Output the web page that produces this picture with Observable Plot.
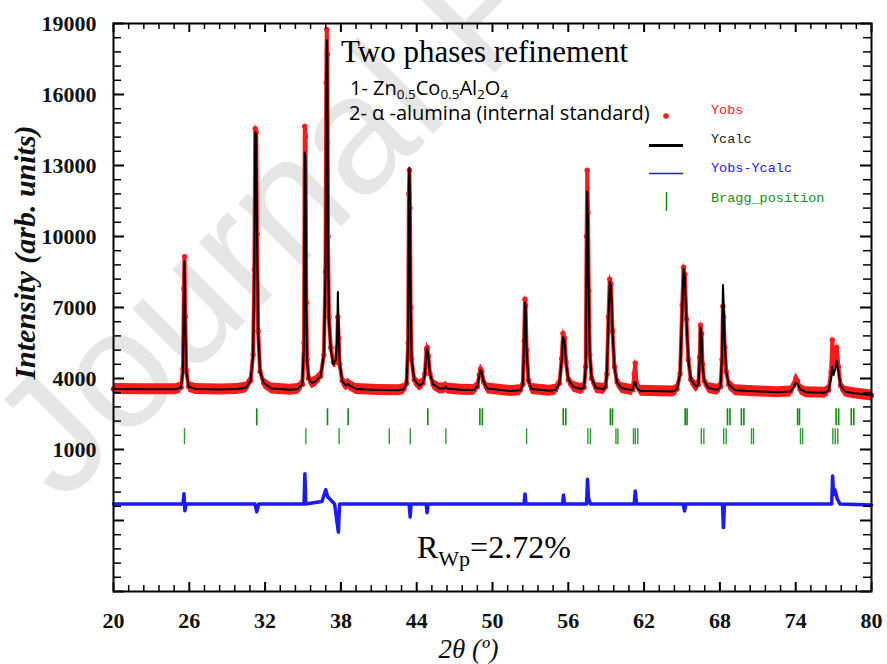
<!DOCTYPE html>
<html>
<head>
<meta charset="utf-8">
<script src="https://cdn.jsdelivr.net/npm/d3@7"></script>
<script src="https://cdn.jsdelivr.net/npm/@observablehq/plot@0.6"></script>
<style>
  body { margin: 0; background: #fff; }
  #chart svg { display: block; }
</style>
</head>
<body>
<div id="chart"></div>
<script>
// Rietveld refinement profile: observed, calculated, difference and Bragg positions.

// Profile vertices: 2θ (degrees), calculated and observed intensity (arb. units)
const twoTheta = [
  20.0, 22.5, 24.9,
  25.35, 25.5, 25.57, 25.62, 25.68, 25.76, 25.95, 26.5, 28.5,
  29.8, 30.5, 30.85, 31.05, 31.15, 31.22, 31.3, 31.36, 31.45, 31.6, 31.9, 32.5, 34.0,
  34.6, 34.95, 35.08, 35.14, 35.2, 35.26, 35.32, 35.45, 35.7, 36.0,
  36.4, 36.65, 36.78, 36.84, 36.88, 36.93, 36.98, 37.05, 37.2, 37.4, 37.6,
  37.7, 37.76, 37.82, 37.9, 38.1, 38.4, 38.57, 38.7, 39.2, 41.0, 42.6,
  43.0, 43.2, 43.32, 43.38, 43.42, 43.47, 43.52, 43.6, 43.8, 44.2,
  44.5, 44.65, 44.78, 44.84, 44.92, 45.05, 45.3, 45.8, 46.2, 46.3, 46.4, 47.5,
  48.5, 48.8, 48.95, 49.05, 49.15, 49.3, 49.6, 51.5,
  52.2, 52.4, 52.5, 52.57, 52.62, 52.7, 52.85, 53.1, 54.5,
  55.0, 55.3, 55.48, 55.58, 55.7, 55.82, 56.0, 56.4, 57.0,
  57.25, 57.38, 57.45, 57.5, 57.56, 57.62, 57.7, 57.85, 58.2, 58.8,
  58.95, 59.05, 59.18, 59.28, 59.38, 59.5, 59.65, 59.85, 60.2, 60.9,
  61.1, 61.22, 61.3, 61.4, 61.7, 64.3,
  64.6, 64.85, 65.02, 65.12, 65.22, 65.35, 65.5, 65.7, 66.1,
  66.3, 66.4, 66.46, 66.55, 66.62, 66.75, 67.1, 67.8,
  68.05, 68.17, 68.24, 68.3, 68.38, 68.5, 68.7, 69.2, 72.5,
  73.6, 73.85, 74.0, 74.15, 74.35, 74.8, 76.3,
  76.6, 76.8, 76.9, 77.0, 77.12, 77.25, 77.38, 77.55, 77.9, 78.6, 80.0
];
const yCalc = [
  3560, 3550, 3545,
  3620, 4300, 7600, 8950, 6500, 4300, 3650, 3560, 3540,
  3560, 3620, 3900, 5000, 8500, 14400, 14300, 10000, 6000, 4300, 3800, 3580, 3520,
  3560, 3750, 5500, 13550, 13400, 7000, 4800, 4000, 3800, 3880,
  4100, 5000, 8500, 16000, 18300, 17500, 10000, 6500, 5200, 4600, 4800,
  5600, 7650, 6200, 4700, 3900, 3700, 3780, 3700, 3560, 3510, 3500,
  3560, 3800, 5500, 12000, 12900, 11500, 7000, 4800, 3950, 3700,
  3800, 4200, 5200, 5260, 4900, 4200, 3750, 3580, 3590, 3660, 3580, 3520,
  3510, 3650, 4100, 4350, 4250, 3850, 3580, 3470,
  3500, 3750, 5500, 7200, 7000, 5200, 3900, 3560, 3480,
  3520, 3800, 4800, 5750, 5600, 4700, 3950, 3650, 3560,
  3620, 4500, 9500, 11900, 10500, 7500, 5000, 4000, 3600, 3560,
  3650, 4200, 6500, 8100, 7900, 6000, 4500, 3850, 3600, 3520,
  3520, 3800, 3850, 3600, 3480, 3450,
  3550, 4200, 7000, 8630, 8300, 6500, 4800, 3950, 3650,
  3750, 4800, 6150, 5800, 4600, 3900, 3600, 3520,
  3650, 5000, 7950, 7200, 5500, 4300, 3750, 3500, 3420,
  3450, 3650, 3800, 3780, 3550, 3420, 3400,
  3500, 4000, 4500, 4150, 4400, 4750, 4300, 3700, 3450, 3380, 3300
];
const yObs = [
  3560, 3550, 3545,
  3620, 4400, 7800, 9150, 6600, 4350, 3650, 3560, 3540,
  3560, 3620, 3900, 5000, 8600, 14550, 14400, 10100, 6000, 4300, 3800, 3580, 3520,
  3560, 3750, 5500, 14650, 14230, 7200, 4800, 4000, 3800, 3880,
  4100, 5000, 8500, 16500, 18750, 17700, 10000, 6600, 5300, 4700, 4700,
  5300, 6600, 5700, 4600, 3900, 3700, 3780, 3700, 3560, 3510, 3500,
  3560, 3800, 5500, 11800, 12800, 11200, 7000, 4800, 3950, 3700,
  3800, 4200, 5250, 5314, 4950, 4200, 3750, 3580, 3590, 3660, 3580, 3520,
  3510, 3650, 4150, 4400, 4300, 3850, 3580, 3470,
  3500, 3750, 5600, 7350, 7100, 5200, 3900, 3560, 3480,
  3520, 3800, 4850, 5900, 5700, 4700, 3950, 3650, 3560,
  3620, 4500, 10000, 12800, 11000, 7700, 5000, 4000, 3600, 3560,
  3650, 4200, 6600, 8200, 8000, 6000, 4500, 3850, 3600, 3520,
  3520, 4200, 4650, 3800, 3480, 3450,
  3550, 4200, 7100, 8700, 8400, 6500, 4800, 3950, 3650,
  3750, 4900, 6250, 5900, 4600, 3900, 3600, 3520,
  3650, 4800, 7050, 6600, 5300, 4300, 3750, 3500, 3420,
  3450, 3700, 4000, 3900, 3550, 3420, 3400,
  3500, 4300, 5626, 4600, 5000, 5314, 4500, 3700, 3450, 3380, 3280
];

// Difference curve (Yobs - Ycalc, shifted below the pattern)
const diffTheta = [
  20.0, 25.5, 25.58, 25.65, 25.75, 31.2, 31.34, 31.5,
  35.08, 35.15, 35.22, 36.5, 36.8, 36.95, 37.5, 37.8, 37.9,
  43.4, 43.48, 43.56, 44.75, 44.82, 44.9,
  52.5, 52.57, 52.65, 55.55, 55.62, 55.7,
  57.45, 57.52, 57.6, 57.75, 61.22, 61.3, 61.4,
  65.1, 65.2, 65.3, 68.2, 68.28, 68.36,
  76.85, 76.92, 77.0, 77.1, 77.3, 77.5, 80.0
];
const diffValue = [
  -1300, -1300, -870, -1590, -1300, -1300, -1630, -1300,
  -1300, -20, -1300, -1200, -700, -1000, -1300, -2490, -1300,
  -1300, -1850, -1300, -1300, -1670, -1300,
  -1300, -880, -1300, -1300, -920, -1300,
  -1300, -260, -1050, -1300, -1300, -750, -1300,
  -1300, -1600, -1300, -1300, -2300, -1300,
  -1300, -120, -900, -700, -1100, -1300, -1350
];

// Bragg positions (2θ): phase 1 Zn0.5Co0.5Al2O4, phase 2 α-alumina
const braggPhase1 = [
  31.34, 36.94, 38.57, 44.88, 49.0, 49.2, 55.6, 55.8, 59.33, 59.5,
  65.25, 65.4, 68.6, 68.8, 69.7, 69.9, 74.15, 74.3, 77.2, 77.4, 78.4, 78.6
];
const braggPhase2 = [
  25.62, 35.23, 37.86, 41.83, 43.49, 46.31, 52.7, 57.55, 57.75, 59.77, 59.93,
  61.16, 61.3, 61.5, 66.53, 66.73, 68.3, 68.5, 70.5, 70.66, 74.38, 74.55,
  76.94, 77.13, 77.33
];

// Axis tick labels
const xTickLabels = [20, 26, 32, 38, 44, 50, 56, 62, 68, 74, 80];
const yTickLabels = [1000, 4000, 7000, 10000, 13000, 16000, 19000];
const yMajorTicks = [-5000, -2000, 1000, 4000, 7000, 10000, 13000, 16000, 19000];

// Texts
const titleText = "Two phases refinement";
const yTitle = "Intensity (arb. units)";
const xTitle = "2θ (º)";
const legendLabels = ["Yobs", "Ycalc", "Yobs-Ycalc", "Bragg_position"];
const watermark = "Journal Pre-proof";

// Layout
const W = 887, H = 664;
const M = {top: 23, right: 16, bottom: 73, left: 113};
const xDomain = [20, 80];
const yDomain = [-5000, 19000];
const plotW = W - M.left - M.right;
const plotH = H - M.top - M.bottom;
const xPerPx = (xDomain[1] - xDomain[0]) / plotW;
const yPerPx = (yDomain[1] - yDomain[0]) / plotH;

const SERIF = "'Liberation Serif', 'Times New Roman', serif";
const SANS = "'Open Sans', Lato, sans-serif";
const MONO = "'Liberation Mono', 'DejaVu Sans Mono', monospace";
const RED = "#ff1a1a", BLUE = "#1a1aff", GREEN = "#14901a";
const obsScatter = 5.5 * yPerPx; // half-thickness of the observed-point band

const profile = twoTheta.map((t, i) => ({t, calc: yCalc[i], obs: yObs[i]}));
const diff = diffTheta.map((t, i) => ({t, v: diffValue[i]}));

// Tick positions: majors every 6° / 3000, minors every 1.2° / 600
const xMinorTicks = d3.range(0, 51).map(i => 20 + i * 1.2).filter((v, i) => i % 5 !== 0);
const yMinorTicks = d3.range(0, 41).map(i => -5000 + i * 600).filter((v, i) => i % 5 !== 0);

function xTicks(values, len, sw) {
  const dy = len * yPerPx;
  return [
    Plot.ruleX(values, {x: d => d, y1: yDomain[0], y2: yDomain[0] + dy, stroke: "#000", strokeWidth: sw}),
    Plot.ruleX(values, {x: d => d, y1: yDomain[1], y2: yDomain[1] - dy, stroke: "#000", strokeWidth: sw})
  ];
}
function yTicks(values, len, sw) {
  const dx = len * xPerPx;
  return [
    Plot.ruleY(values, {y: d => d, x1: xDomain[0], x2: xDomain[0] + dx, stroke: "#000", strokeWidth: sw}),
    Plot.ruleY(values, {y: d => d, x1: xDomain[1], x2: xDomain[1] - dx, stroke: "#000", strokeWidth: sw})
  ];
}

const chart = Plot.plot({
  width: W,
  height: H,
  marginTop: M.top,
  marginRight: M.right,
  marginBottom: M.bottom,
  marginLeft: M.left,
  style: {background: "#fff", overflow: "visible"},
  x: {domain: xDomain, axis: null},
  y: {domain: yDomain, axis: null},
  marks: [
    // observed points
    Plot.areaY(profile, {x: "t", y1: d => d.obs - obsScatter, y2: d => d.obs + obsScatter, fill: RED}),
    Plot.line(profile, {x: "t", y: "obs", stroke: RED, strokeWidth: 4, strokeLinejoin: "round", strokeLinecap: "round"}),
    Plot.dot(profile, {x: "t", y: "obs", r: 2.7, fill: RED}),
    // calculated profile
    Plot.line(profile, {x: "t", y: "calc", stroke: "#000", strokeWidth: 2}),
    // difference
    Plot.line(diff, {x: "t", y: "v", stroke: BLUE, strokeWidth: 3.5}),
    // Bragg positions
    Plot.ruleX(braggPhase1, {x: d => d, y1: 2000, y2: 2720, stroke: "#0d8a12", strokeWidth: 1.6}),
    Plot.ruleX(braggPhase2, {x: d => d, y1: 1200, y2: 1880, stroke: "#2d9d33", strokeWidth: 1.4}),
    // inward ticks on all sides
    ...xTicks(xTickLabels, 9, 2),
    ...xTicks(xMinorTicks, 6, 1.5),
    ...yTicks(yMajorTicks, 11, 2),
    ...yTicks(yMinorTicks, 8, 1.5),
    Plot.frame({stroke: "#000", strokeWidth: 2}),
    // tick labels
    Plot.text(yTickLabels, {y: d => d, text: d => String(d), frameAnchor: "left", dx: -17, textAnchor: "end",
      lineAnchor: "middle", fontFamily: SERIF, fontWeight: "bold", fontSize: 22, fill: "#111"}),
    Plot.text(xTickLabels, {x: d => d, text: d => String(d), frameAnchor: "bottom", dy: 29, textAnchor: "middle",
      lineAnchor: "middle", fontFamily: SERIF, fontWeight: "bold", fontSize: 22, fill: "#111"}),
    // axis titles
    Plot.text([yTitle], {text: d => d, frameAnchor: "left", dx: -88, dy: -55, rotate: -90,
      textAnchor: "middle", lineAnchor: "middle",
      fontFamily: SERIF, fontWeight: "bold", fontStyle: "italic", fontSize: 30, fill: "#111"}),
    Plot.text([xTitle], {text: d => d, frameAnchor: "bottom", dx: -24, dy: 58, textAnchor: "middle",
      lineAnchor: "middle", fontFamily: SERIF, fontStyle: "italic", fontSize: 27, fill: "#111"})
  ]
});

const svg = d3.select(chart);

// Faint diagonal watermark behind everything
svg.insert("text", ":first-child")
  .attr("transform", "translate(62,505) rotate(-45)")
  .attr("text-anchor", "start")
  .attr("font-family", "'Liberation Sans', Arial, sans-serif")
  .attr("font-size", 168)
  .attr("fill", "#e6e6e6")
  .text(watermark);

function addRich(parent, x, y, parts, {family, size, fill = "#000", weight = "normal"}) {
  const t = parent.append("text").attr("x", x).attr("y", y)
    .attr("text-anchor", "start")
    .attr("font-family", family).attr("font-size", size)
    .attr("fill", fill).attr("font-weight", weight);
  let shift = 0;
  for (const p of parts) {
    const target = p.sub ? p.shift : 0;
    t.append("tspan").attr("dy", target - shift).attr("font-size", p.sub ? p.size : size).text(p.text);
    shift = target;
  }
  return t;
}

const notes = svg.append("g").attr("text-anchor", "start");
notes.append("text").attr("x", 341).attr("y", 62)
  .attr("font-family", SERIF).attr("font-size", 31).attr("fill", "#000").text(titleText);

addRich(notes, 350, 95, [
  {text: "1- Zn"}, {text: "0.5", sub: true, size: 13.5, shift: 4},
  {text: "Co"}, {text: "0.5", sub: true, size: 13.5, shift: 4},
  {text: "Al"}, {text: "2", sub: true, size: 13.5, shift: 4},
  {text: "O"}, {text: "4", sub: true, size: 13.5, shift: 4}
], {family: SANS, size: 20});

notes.append("text").attr("x", 349).attr("y", 120)
  .attr("font-family", SANS).attr("font-size", 20).attr("fill", "#000")
  .text("2- α -alumina (internal standard)");

// Legend
const lg = svg.append("g").attr("text-anchor", "start").attr("font-family", MONO).attr("font-size", 13.5);
lg.append("circle").attr("cx", 666).attr("cy", 116).attr("r", 2.8).attr("fill", RED);
lg.append("text").attr("x", 711).attr("y", 114).attr("fill", RED).text(legendLabels[0]);
lg.append("line").attr("x1", 649).attr("x2", 683).attr("y1", 145.5).attr("y2", 145.5)
  .attr("stroke", "#000").attr("stroke-width", 3);
lg.append("text").attr("x", 711).attr("y", 143).attr("fill", "#222").text(legendLabels[1]);
lg.append("line").attr("x1", 649).attr("x2", 683).attr("y1", 173.5).attr("y2", 173.5)
  .attr("stroke", BLUE).attr("stroke-width", 1.5);
lg.append("text").attr("x", 711).attr("y", 172).attr("fill", BLUE).text(legendLabels[2]);
lg.append("line").attr("x1", 666.5).attr("x2", 666.5).attr("y1", 192).attr("y2", 211)
  .attr("stroke", GREEN).attr("stroke-width", 1.5);
lg.append("text").attr("x", 711).attr("y", 202).attr("fill", GREEN).text(legendLabels[3]);

// Weighted profile R-factor
addRich(notes, 417, 558, [
  {text: "R"}, {text: "Wp", sub: true, size: 22, shift: 8}, {text: "=2.72%"}
], {family: SERIF, size: 32});

document.getElementById("chart").appendChild(chart);
</script>
</body>
</html>
